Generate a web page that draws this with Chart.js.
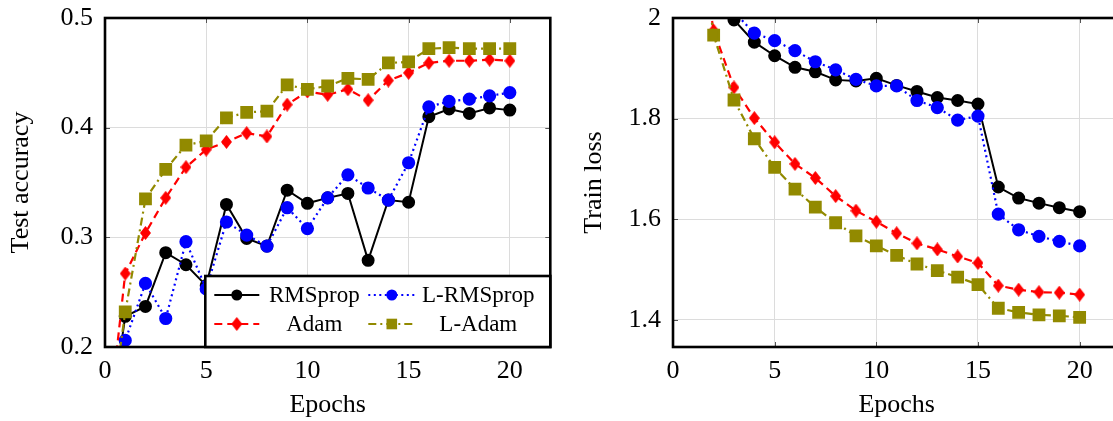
<!DOCTYPE html>
<html>
<head>
<meta charset="utf-8">
<script src="https://cdn.jsdelivr.net/npm/chart.js@4"></script>
<style>
  html, body { margin: 0; padding: 0; background: #fff; overflow: hidden; }
  #wrap { position: relative; width: 1113px; height: 421px; overflow: hidden; }
  #accChart { position: absolute; left: 0; top: 0; }
  #lossChart { position: absolute; left: 565px; top: 0; }
</style>
</head>
<body>
<div id="wrap">
  <canvas id="accChart" width="560" height="421"></canvas>
  <canvas id="lossChart" width="565" height="421"></canvas>
</div>
<script>
// data
var epochs = [0, 1, 2, 3, 4, 5, 6, 7, 8, 9, 10, 11, 12, 13, 14, 15, 16, 17, 18, 19, 20]
var seriesNames = ["RMSprop", "L-RMSprop", "Adam", "L-Adam"]

var accRms   = [0.100, 0.228, 0.237, 0.286, 0.275, 0.256, 0.330, 0.299, 0.292, 0.343, 0.331, 0.336, 0.340, 0.279, 0.334, 0.332, 0.410, 0.417, 0.413, 0.418, 0.416]
var accLRms  = [0.100, 0.206, 0.258, 0.226, 0.296, 0.253, 0.314, 0.302, 0.292, 0.327, 0.308, 0.336, 0.357, 0.345, 0.334, 0.368, 0.419, 0.424, 0.426, 0.429, 0.432]
var accAdam  = [0.100, 0.267, 0.304, 0.336, 0.364, 0.380, 0.387, 0.395, 0.392, 0.421, 0.433, 0.430, 0.435, 0.425, 0.443, 0.450, 0.459, 0.461, 0.461, 0.462, 0.461]
var accLAdam = [0.100, 0.232, 0.335, 0.362, 0.384, 0.388, 0.409, 0.414, 0.415, 0.439, 0.435, 0.438, 0.445, 0.444, 0.459, 0.460, 0.472, 0.473, 0.472, 0.472, 0.472]

var lossRms   = [2.30, 2.18, 2.06, 1.996, 1.952, 1.925, 1.902, 1.893, 1.877, 1.875, 1.880, 1.866, 1.854, 1.842, 1.836, 1.829, 1.664, 1.642, 1.632, 1.623, 1.615]
var lossLRms  = [2.30, 2.17, 2.06, 2.012, 1.970, 1.955, 1.935, 1.913, 1.897, 1.878, 1.865, 1.865, 1.836, 1.822, 1.797, 1.805, 1.610, 1.579, 1.566, 1.556, 1.547]
var lossAdam  = [2.40, 2.22, 1.975, 1.862, 1.801, 1.753, 1.710, 1.682, 1.646, 1.617, 1.595, 1.572, 1.552, 1.540, 1.526, 1.513, 1.468, 1.460, 1.455, 1.454, 1.450]
var lossLAdam = [2.40, 2.25, 1.966, 1.837, 1.760, 1.703, 1.660, 1.624, 1.593, 1.567, 1.547, 1.528, 1.511, 1.498, 1.485, 1.470, 1.423, 1.415, 1.410, 1.408, 1.405]

var xTicks = [0, 5, 10, 15, 20]
var xTickLabels = ["0", "5", "10", "15", "20"]
var accTicks = [0.2, 0.3, 0.4, 0.5]
var accTickLabels = ["0.2", "0.3", "0.4", "0.5"]
var lossTicks = [1.4, 1.6, 1.8, 2]
var lossTickLabels = ["1.4", "1.6", "1.8", "2"]

var serif = "'Liberation Serif', 'DejaVu Serif', serif"
var olive = "#928a00"

function makeDiamond(color) {
  var c = document.createElement("canvas")
  c.width = 11
  c.height = 14
  var g = c.getContext("2d")
  g.fillStyle = color
  g.beginPath()
  g.moveTo(5.5, 0)
  g.lineTo(11, 7)
  g.lineTo(5.5, 14)
  g.lineTo(0, 7)
  g.closePath()
  g.fill()
  return c
}
var diamond = makeDiamond("#ff0000")

function pairs(vals) {
  return epochs.map(function(e, i) { return { x: e, y: vals[i] } })
}

function makeDatasets(a, b, c, d) {
  return [
    { label: seriesNames[0], data: pairs(a), borderColor: "#000", backgroundColor: "#000",
      borderWidth: 2, pointStyle: "circle", pointRadius: 5.5, order: 4 },
    { label: seriesNames[1], data: pairs(b), borderColor: "#0000ff", backgroundColor: "#0000ff",
      borderWidth: 2.2, borderDash: [2, 3.5], pointStyle: "circle", pointRadius: 5.5, order: 3 },
    { label: seriesNames[2], data: pairs(c), borderColor: "#ff0000", backgroundColor: "#ff0000",
      borderWidth: 2.2, borderDash: [8, 5], pointStyle: diamond, pointRadius: 6, order: 2 },
    { label: seriesNames[3], data: pairs(d), borderColor: olive, backgroundColor: olive,
      borderWidth: 2.2, borderDash: [8, 4, 2, 4], pointStyle: "rect", pointRadius: 7.5, order: 1 }
  ]
}

// black frame around the plot area, with small inner tick marks
var framePlugin = {
  id: "frame",
  afterDatasetsDraw: function(chart) {
    var ctx = chart.ctx
    var a = chart.chartArea
    var xs = chart.scales.x
    var ys = chart.scales.y
    ctx.save()
    ctx.strokeStyle = "#555"
    ctx.lineWidth = 1
    ctx.beginPath()
    xs.ticks.forEach(function(t) {
      var px = Math.round(xs.getPixelForValue(t.value)) + 0.5
      ctx.moveTo(px, a.bottom); ctx.lineTo(px, a.bottom - 5)
      ctx.moveTo(px, a.top); ctx.lineTo(px, a.top + 5)
    })
    ys.ticks.forEach(function(t) {
      var py = Math.round(ys.getPixelForValue(t.value)) + 0.5
      ctx.moveTo(a.left, py); ctx.lineTo(a.left + 5, py)
      ctx.moveTo(a.right, py); ctx.lineTo(a.right - 5, py)
    })
    ctx.stroke()
    ctx.strokeStyle = "#000"
    ctx.lineWidth = 2.6
    ctx.strokeRect(a.left, a.top, a.right - a.left, a.bottom - a.top)
    ctx.restore()
  }
}

function drawMark(ctx, ds, x, y) {
  ctx.save()
  ctx.setLineDash([])
  ctx.fillStyle = ds.backgroundColor
  if (ds.pointStyle == "circle") {
    ctx.beginPath()
    ctx.arc(x, y, ds.pointRadius, 0, Math.PI * 2)
    ctx.fill()
  } else if (ds.pointStyle == "rect") {
    var s = ds.pointRadius * Math.SQRT1_2
    ctx.fillRect(x - s, y - s, 2 * s, 2 * s)
  } else {
    ctx.drawImage(ds.pointStyle, x - ds.pointStyle.width / 2, y - ds.pointStyle.height / 2)
  }
  ctx.restore()
}

// pgfplots style legend, two columns, in the lower right corner
var legendPlugin = {
  id: "boxLegend",
  afterDraw: function(chart) {
    var ctx = chart.ctx
    var a = chart.chartArea
    var w = 345, h = 71
    var left = a.right - w
    var top = a.bottom - h
    ctx.save()
    ctx.fillStyle = "#fff"
    ctx.fillRect(left, top, w, h)
    ctx.strokeStyle = "#000"
    ctx.lineWidth = 2.6
    ctx.strokeRect(left, top, w, h)

    var cols = [
      { s0: 9, s1: 54, text: 109 },
      { s0: 163, s1: 210, text: 273 }
    ]
    var rows = [top + 19, top + 48]
    ctx.font = "23px " + serif
    ctx.textAlign = "center"
    ctx.textBaseline = "middle"
    chart.data.datasets.forEach(function(ds, i) {
      var col = cols[i % 2]
      var y = rows[Math.floor(i / 2)]
      ctx.strokeStyle = ds.borderColor
      ctx.lineWidth = ds.borderWidth
      ctx.setLineDash(ds.borderDash || [])
      ctx.beginPath()
      ctx.moveTo(left + col.s0, y)
      ctx.lineTo(left + col.s1, y)
      ctx.stroke()
      drawMark(ctx, ds, left + (col.s0 + col.s1) / 2, y)
      ctx.fillStyle = "#000"
      ctx.fillText(ds.label, left + col.text, y + 1)
    })
    ctx.restore()
  }
}

function makeOptions(yMin, yMax, yTicks, yLabels, yTitle, yWidth, yTitlePad, rightPad) {
  var tickFont = { family: serif, size: 26 }
  var titleFont = { family: serif, size: 26 }
  return {
    responsive: false,
    animation: false,
    layout: { padding: { top: 18, right: rightPad, left: 0, bottom: 0 } },
    plugins: { legend: { display: false }, tooltip: { enabled: false } },
    elements: { line: { tension: 0 } },
    scales: {
      x: {
        type: "linear", min: 0, max: 22,
        afterBuildTicks: function(s) { s.ticks = xTicks.map(function(v) { return { value: v } }) },
        afterFit: function(s) { s.height = 74; s.paddingLeft = 0; s.paddingRight = 0 },
        grid: { color: "#dcdcdc", drawTicks: false },
        border: { display: false },
        ticks: { padding: 9, maxRotation: 0, color: "#000", font: tickFont,
          callback: function(v, i) { return xTickLabels[i] } },
        title: { display: true, text: "Epochs", color: "#000", font: titleFont, padding: { top: 0, bottom: 0 } }
      },
      y: {
        type: "linear", min: yMin, max: yMax,
        afterBuildTicks: function(s) { s.ticks = yTicks.map(function(v) { return { value: v } }) },
        afterFit: function(s) { s.width = yWidth; s.paddingTop = 0; s.paddingBottom = 0 },
        grid: { color: "#dcdcdc", drawTicks: false },
        border: { display: false },
        ticks: { padding: 12, color: "#000", font: tickFont,
          callback: function(v, i) { return yLabels[i] } },
        title: { display: true, text: yTitle, color: "#000", font: titleFont, padding: { top: yTitlePad, bottom: 0 } }
      }
    }
  }
}

var accChart = new Chart(document.getElementById("accChart").getContext("2d"), {
  type: "line",
  data: { datasets: makeDatasets(accRms, accLRms, accAdam, accLAdam) },
  options: makeOptions(0.2, 0.5, accTicks, accTickLabels, "Test accuracy", 105, 6, 7),
  plugins: [framePlugin, legendPlugin]
})

var lossChart = new Chart(document.getElementById("lossChart").getContext("2d"), {
  type: "line",
  data: { datasets: makeDatasets(lossRms, lossLRms, lossAdam, lossLAdam) },
  options: makeOptions(1.346, 2, lossTicks, lossTickLabels, "Train loss", 108, 14, 8),
  plugins: [framePlugin]
})
</script>
</body>
</html>
